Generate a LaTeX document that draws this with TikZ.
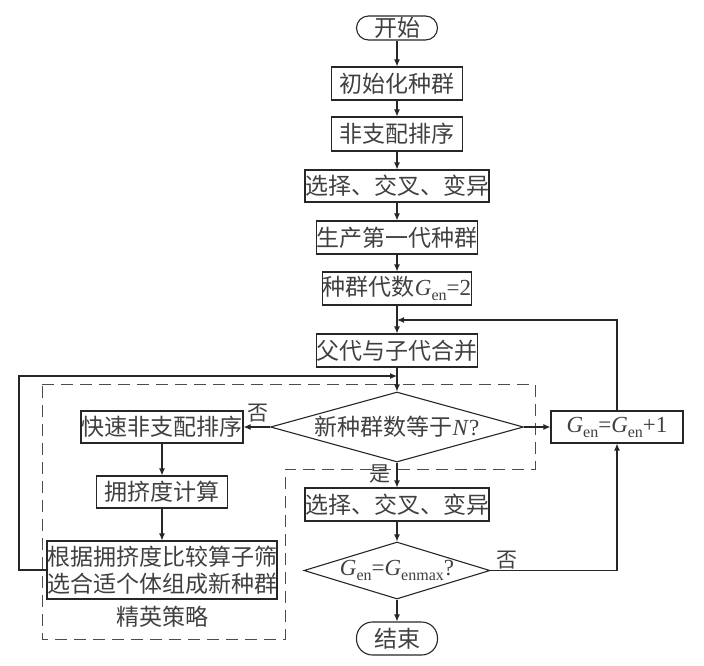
\documentclass[tikz,border=0pt]{standalone}
\usepackage{fontspec}
\setmainfont{Noto Sans CJK SC}
\newfontfamily\tms{Liberation Serif}
\usetikzlibrary{shapes.geometric,arrows.meta}
\newcommand{\lowtext}[1]{\raisebox{-0.22em}{\fontsize{16}{16}\selectfont #1}}
\newcommand{\Gen}{\textit{G}\lowtext{en}}

\begin{document}
\begin{tikzpicture}[x=1pt,y=-1pt,line width=1.1pt,color=black!85]
\tikzstyle{every node}+=[inner sep=0pt,text=black!75,font=\fontsize{23}{27}\selectfont]
\tikzstyle{box}=[draw,rectangle]
\tikzstyle{term}=[draw,rectangle]
\tikzstyle{decide}=[draw,diamond]
\tikzstyle{flow}=[-{Latex[length=7pt,width=6pt]}]
\tikzstyle{note}=[font=\fontsize{21}{21}\selectfont]
\useasboundingbox (0,0) rectangle (704,665);
\draw [dashed,dash pattern=on 12pt off 7pt,line width=1pt,black!70] (42,384) -- (535,384) -- (535,469) -- (285,469) -- (285,639) -- (42,639) -- cycle;
\node [term,rounded corners=12pt,minimum width=81,minimum height=24] (start) at (397,28) {开始};
\node [box,minimum width=131,minimum height=33] (init) at (397,83.5) {初始化种群};
\node [box,minimum width=131,minimum height=34] (nds) at (397,134) {非支配排序};
\node [box,minimum width=179,minimum height=32] (sel1) at (397,186) {选择、交叉、变异};
\node [box,minimum width=161,minimum height=33] (gen1) at (397,237.5) {生产第一代种群};
\node [box,minimum width=146,minimum height=33] (gen2) at (397,288.5) {种群代数{\tms\Gen=2}};
\node [box,minimum width=160,minimum height=33] (merge) at (397,350.5) {父代与子代合并};
\node [decide,aspect=3.6,minimum width=253,minimum height=70] (check) at (397,427) {新种群数等于{\tms\textit{N}?}};
\node [box,minimum width=162,minimum height=32] (fast) at (162,427) {快速非支配排序};
\node [box,minimum width=131,minimum height=32] (crowd) at (162,492) {拥挤度计算};
\node [box,minimum width=228,minimum height=58,align=center] (elite) at (162,570) {根据拥挤度比较算子筛\\选合适个体组成新种群};
\node (eliteName) at (162,617) {精英策略};
\node [box,minimum width=132,minimum height=32] (incr) at (617,427) {\tms\Gen=\Gen+1};
\node [box,minimum width=176,minimum height=33] (sel2) at (397,504.5) {选择、交叉、变异};
\node [decide,aspect=3.26,inner xsep=-6pt,minimum width=186,minimum height=57] (stop) at (397,570.5) {\tms\Gen=\textit{G}\lowtext{enmax}?};
\node [term,rounded corners=16pt,minimum width=81,minimum height=33] (end) at (397,638.5) {结束};
\node [note] (noFast) at (258,413) {否};
\node [note] (yesCheck) at (380,474) {是};
\node [note] (noStop) at (507,560) {否};
\coordinate (j1) at (397,320);
\coordinate (j2) at (397,376);
\coordinate (lc) at (19,376);
\draw [flow] (start) -- (init);
\draw [flow] (init) -- (nds);
\draw [flow] (nds) -- (sel1);
\draw [flow] (sel1) -- (gen1);
\draw [flow] (gen1) -- (gen2);
\draw [flow] (gen2) -- (merge);
\draw [flow] (merge) -- (check);
\draw [flow] (check.south) -- (sel2);
\draw [flow] (sel2) -- (stop);
\draw [flow] (stop.south) -- (end);
\draw [flow] (fast) -- (crowd);
\draw [flow] (crowd) -- (elite);
\draw [flow] (check.west) -- (fast.east);
\draw [flow] (check.east) -- (incr.west);
\draw [flow] (stop.east) -| (incr.south);
\draw [flow] (incr.north) |- (j1);
\draw [flow] (elite.west) -| (lc) -- (j2);
\end{tikzpicture}
\end{document}
